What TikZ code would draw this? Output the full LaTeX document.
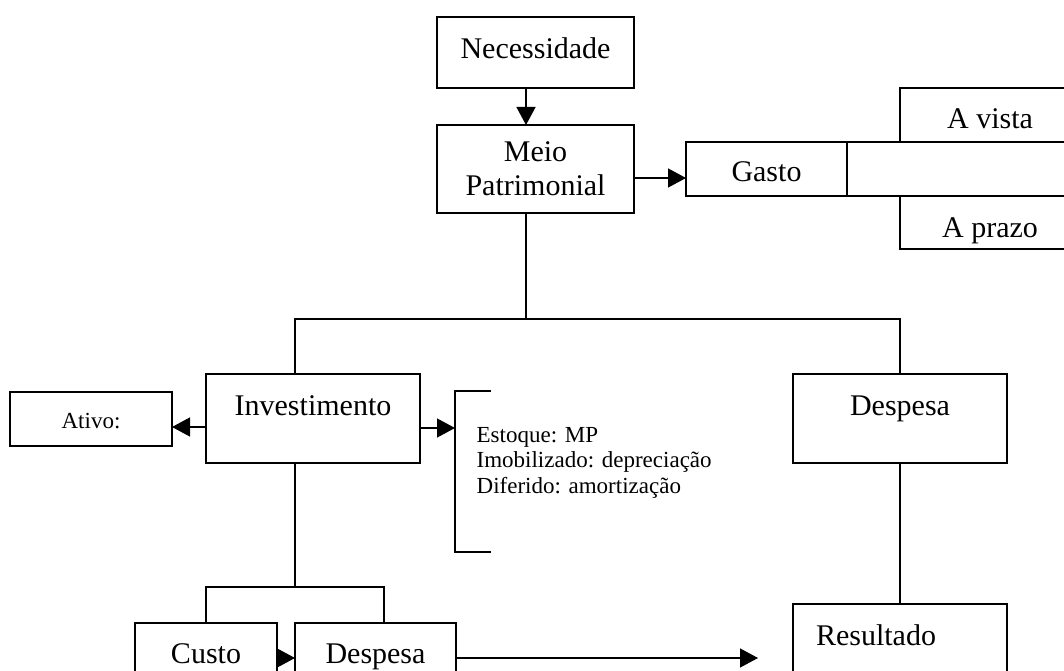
\documentclass[tikz,border=0pt]{standalone}
\usepackage{fontspec}
\setmainfont{Liberation Serif}
\usetikzlibrary{arrows.meta}
\begin{document}
\begin{tikzpicture}[x=1pt, y=-1pt, line width=1.3pt, >={Triangle[length=18pt,width=19pt]},
    box/.style={shape=rectangle, draw, anchor=north west, inner sep=0pt, outer sep=0pt, font=\fontsize{30}{34}\selectfont},
    small/.style={font=\fontsize{23}{25.5}\selectfont}]
  \useasboundingbox (0,0) rectangle (1064,671);
  \clip (0,0) rectangle (1064,671);
  % Nodes
  \node[box, minimum width=197pt, text height=42pt, text depth=29pt] (nec) at (437,17) {Necessidade};
  \node[box, minimum width=197pt, minimum height=88pt, align=center] (meio) at (437,125) {Meio\\Patrimonial};
  \node[box, minimum width=161pt, text height=40pt, text depth=14pt] (gasto) at (686,142) {Gasto};
  \node[box, minimum width=180pt, text height=41pt, text depth=13pt] (avista) at (900,88) {A vista};
  \node[box, minimum width=180pt, text height=41pt, text depth=12pt] (aprazo) at (900,196) {A prazo};
  \node[box, small, minimum width=162pt, text height=36pt, text depth=18pt] (ativo) at (10,392) {Ativo:};
  \node[box, minimum width=214pt, text height=41pt, text depth=48pt] (invest) at (206,374) {Investimento};
  \node[box, minimum width=214pt, text height=41pt, text depth=48pt] (desp) at (793,374) {Despesa};
  \node[box, minimum width=142pt, text height=40pt, text depth=27pt] (custo) at (135,623) {Custo};
  \node[box, minimum width=161pt, text height=40pt, text depth=27pt] (desp2) at (295,623) {Despesa};
  \node[box, inner xsep=23pt, text width=168pt, align=left, text height=41pt, text depth=45pt] (result) at (793,604) {Resultado};
  \node[small, anchor=north west, inner sep=0pt, align=left] (stock) at (476,426.4) {Estoque: MP\\Imobilizado: depreciação\\Diferido: amortização};
  \coordinate (trunk) at (526,319);
  \coordinate (jL) at (295,319);
  \coordinate (jLow) at (295,587);
  \coordinate (kR) at (384,587);
  \coordinate (brT) at (455,391);
  \coordinate (brB) at (455,552);
  \coordinate (flow) at (758,658);
  % Edges
  \draw[->] (nec.south -| trunk) -- (meio.north -| trunk);
  \draw (meio.south -| trunk) -- (trunk);
  \draw (invest.north -| jL) -- (jL) -- (jL -| desp.north) -- (desp.north);
  \draw[->] ([yshift=-9pt]meio.east) -- ([yshift=-9pt]meio.east -| gasto.west);
  \draw (gasto.north east) -- (avista.south west);
  \draw (gasto.south east) -- (aprazo.north west);
  \draw[->] ([yshift=-8.5pt]invest.west) -- ([yshift=-8.5pt]invest.west -| ativo.east);
  \draw[->] ([yshift=-9.5pt]invest.east) -- ([yshift=-9.5pt]invest.east -| brT);
  \draw ([xshift=36pt]brT) -- (brT) -- (brB) -- ([xshift=36pt]brB);
  \draw (invest.south -| jLow) -- (jLow);
  \draw (custo.north) -- (custo.north |- jLow) -- (kR) -- (kR |- desp2.north);
  \draw (desp.south) -- (desp.south |- result.north);
  \draw[->] (custo.east |- flow) -- (desp2.west |- flow);
  \draw[->] (desp2.east |- flow) -- (flow);
\end{tikzpicture}
\end{document}
